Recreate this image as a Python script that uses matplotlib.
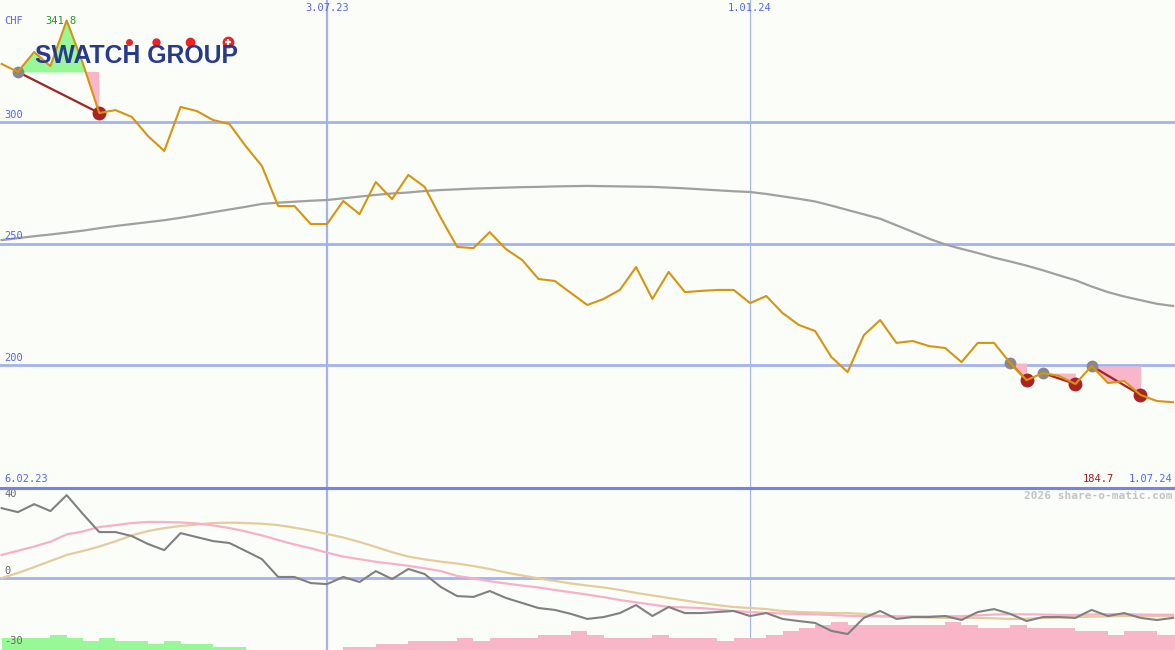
import numpy as np
import pandas as pd
import matplotlib
matplotlib.use('Agg')
import matplotlib.pyplot as plt
import matplotlib.dates as mdates
from matplotlib.lines import Line2D

# weekly closes, 13.02.23 .. 1.07.24
dates = pd.date_range('2023-02-13', periods=73, freq='7D')
start_label = '6.02.23'
end_label = '1.07.24'

price = [323.9, 320.6, 328.8, 323.0, 341.8, 324.0, 303.7, 304.9, 302.1, 294.2,
         288.1, 306.2, 304.5, 300.8, 299.2, 290.1, 281.9, 265.4, 265.4, 258.0,
         258.0, 267.5, 262.1, 275.3, 268.3, 278.2, 273.3, 260.5, 248.6, 248.1,
         254.7, 247.7, 243.2, 235.4, 234.6, 229.6, 224.7, 227.2, 230.9, 240.3,
         227.2, 238.3, 230.0, 230.5, 230.9, 230.9, 225.5, 228.4, 221.4, 216.5,
         214.0, 203.3, 197.1, 212.3, 218.5, 209.1, 209.9, 207.8, 207.0, 201.2,
         209.1, 209.1, 200.8, 193.8, 196.7, 195.5, 192.2, 199.6, 192.6, 193.4,
         187.7, 185.2, 184.7]

ma_long = [251.4, 252.2, 253.0, 253.7, 254.5, 255.3, 256.3, 257.2, 258.0, 258.8,
           259.6, 260.6, 261.7, 262.9, 264.0, 265.1, 266.3, 266.8, 267.2, 267.6,
           267.9, 268.6, 269.3, 270.0, 270.6, 271.0, 271.6, 272.0, 272.3, 272.6,
           272.8, 273.0, 273.2, 273.3, 273.5, 273.6, 273.7, 273.6, 273.5, 273.4,
           273.3, 273.0, 272.7, 272.3, 271.9, 271.5, 271.2, 270.4, 269.4, 268.4,
           267.3, 265.6, 263.8, 262.0, 260.2, 257.5, 254.8, 252.0, 249.6, 247.8,
           246.1, 244.2, 242.6, 240.9, 239.0, 236.9, 234.9, 232.3, 230.0, 228.2,
           226.7, 225.2, 224.3]

osc = [33.3, 31.4, 35.2, 31.9, 39.5, 30.5, 21.9, 21.9, 20.0, 16.2,
       13.3, 21.4, 19.5, 17.6, 16.7, 12.9, 9.0, 0.5, 0.5, -2.4,
       -2.9, 0.5, -1.9, 3.3, -0.5, 4.3, 1.9, -4.3, -8.6, -9.0,
       -6.2, -9.5, -11.9, -14.3, -15.2, -17.1, -19.5, -18.6, -16.7, -12.9,
       -18.1, -13.8, -16.7, -16.7, -16.2, -15.7, -18.1, -16.7, -19.5, -20.5,
       -21.4, -25.2, -26.7, -19.0, -15.7, -19.5, -18.6, -18.6, -18.1, -20.0,
       -16.2, -14.8, -17.1, -20.5, -18.6, -18.6, -19.0, -15.2, -18.1, -16.7,
       -19.0, -20.0, -19.0]

osc_fast = [11.0, 13.0, 15.0, 17.3, 20.8, 22.2, 24.3, 25.2, 26.2, 26.7,
            26.7, 26.5, 26.0, 25.1, 23.8, 22.2, 20.3, 18.1, 16.0, 14.2,
            12.1, 10.2, 9.0, 7.7, 6.8, 5.8, 4.6, 3.3, 1.0, -0.2,
            -1.5, -2.6, -3.6, -4.5, -5.7, -6.8, -7.9, -9.1, -10.5, -11.6,
            -12.7, -13.8, -14.0, -14.3, -15.0, -15.7, -16.2, -16.6, -16.9, -17.1,
            -17.3, -17.6, -18.0, -18.2, -18.3, -18.3, -18.3, -18.3, -18.2, -18.2,
            -17.8, -17.4, -17.3, -17.3, -17.4, -17.6, -17.6, -17.4, -17.2, -17.2,
            -17.4, -17.5, -17.5]

osc_slow = [0.0, 2.4, 5.2, 8.1, 11.0, 12.9, 15.0, 17.5, 20.3, 22.4,
            23.8, 24.8, 25.5, 26.2, 26.4, 26.2, 25.9, 25.2, 24.0, 22.6,
            21.0, 19.3, 17.2, 14.8, 12.3, 10.2, 8.9, 7.8, 6.9, 5.7,
            4.3, 2.6, 1.2, -0.2, -1.4, -2.6, -3.6, -4.5, -5.7, -7.1,
            -8.3, -9.5, -10.7, -11.9, -12.9, -13.8, -14.3, -14.8, -15.7, -16.2,
            -16.4, -16.7, -16.7, -17.1, -18.1, -18.3, -18.6, -18.8, -19.0, -19.0,
            -19.0, -19.2, -19.5, -19.4, -19.0, -18.8, -18.6, -18.4, -18.3, -18.1,
            -18.1, -18.1, -18.1]

# signed bar strength (green > 0, pink < 0)
strength = [5.7, 5.7, 5.7, 7.1, 5.7, 4.3, 5.7, 4.3, 4.3, 2.9,
            4.3, 2.9, 2.9, 1.4, 1.4, 0, 0, 0, 0, 0,
            0, -1.4, -1.4, -2.9, -2.9, -4.3, -4.3, -4.3, -5.7, -4.3,
            -5.7, -5.7, -5.7, -7.1, -7.1, -9.0, -7.1, -5.7, -5.7, -5.7,
            -7.1, -5.7, -5.7, -5.7, -4.3, -5.7, -5.7, -7.1, -9.0, -10.5,
            -11.9, -13.3, -11.9, -11.9, -11.9, -11.9, -11.9, -11.9, -13.3, -11.9,
            -10.5, -10.5, -11.9, -10.5, -10.5, -10.5, -9.0, -9.0, -7.1, -9.0,
            -9.0, -7.1, -7.1]

# (entry, exit) index pairs
trades = [(1, 6), (62, 63), (64, 66), (67, 70)]

grid_dates = ['2023-07-03', '2024-01-01']
grid_labels = ['3.07.23', '1.01.24']

bg = '#fbfdf9'
gridc = '#a4b2f2'
blue_txt = '#5566ee'
mono = 'DejaVu Sans Mono'

x = mdates.date2num(dates)
price = np.array(price)
xlo, xhi = x[0] - 0.69, x[-1] + 0.86

fig = plt.figure(figsize=(11.75, 6.5), dpi=100)
fig.patch.set_facecolor(bg)
ax1 = fig.add_axes([0, 162 / 650, 1, 488 / 650])
ax2 = fig.add_axes([0, 0, 1, 162 / 650])
for ax in (ax1, ax2):
    ax.set_facecolor(bg)
    ax.set_xlim(xlo, xhi)
    ax.set_xticks([])
    ax.set_yticks([])
    for s in ax.spines.values():
        s.set_visible(False)
    for d, w in zip(grid_dates, [1.6, 0.8]):
        ax.axvline(mdates.date2num(pd.Timestamp(d)), color=gridc, lw=w, zorder=0)

ax1.set_ylim(149.4, 350.2)
ax2.set_ylim(-34.3, 42.9)

# main panel
for lvl in [300, 250, 200]:
    ax1.axhline(lvl, color=gridc, lw=2, zorder=0)
    ax1.annotate(str(lvl), (0.004, lvl), xycoords=('axes fraction', 'data'),
                 xytext=(0, 1.5), textcoords='offset points',
                 color=blue_txt, fontsize=7.5, family=mono, va='bottom')

# panel separator
fig.add_artist(Line2D([0, 1], [162 / 650, 162 / 650], color='#7383ea', lw=2.2,
                      transform=fig.transFigure, zorder=5))

# logo
fig.text(35 / 1175, 1 - 63 / 650, 'SWATCH GROUP', family='Liberation Sans',
         fontweight='bold', fontsize=17.8, color='#283a8c', va='baseline', zorder=1)
for lx, ms in zip([129, 156, 190, 228], [5, 6, 7, 8.5]):
    ax1.plot([lx / 1175], [1 - 42 / 650], 'o', color='#ee2222', ms=ms, mec='none',
             transform=fig.transFigure, clip_on=False, zorder=1)
ax1.plot([228 / 1175], [1 - 42 / 650], '+', color='white', ms=5, mew=1.6,
         transform=fig.transFigure, clip_on=False, zorder=1)

ax1.plot(x, ma_long, color='#a0a0a0', lw=1.6, zorder=2)

for a, b in trades:
    xs = x[a:b + 1]
    ps = price[a:b + 1]
    lvl = price[a]
    ax1.fill_between(xs, ps, lvl, where=ps >= lvl, interpolate=True,
                     color='#98f898', lw=0, zorder=2)
    ax1.fill_between(xs, ps, lvl, where=ps <= lvl, interpolate=True,
                     color='#f8b6c8', lw=0, zorder=2)
    ax1.plot([x[a], x[b]], [price[a], price[b]], color='#a52222', lw=1.6, zorder=3)
    ax1.plot(x[a], price[a], 'o', color='#888888', ms=8.5, mec='none', zorder=3)
    ax1.plot(x[b], price[b], 'o', color='#a82424', ms=10, mec='none', zorder=3)

ax1.plot(x, price, color='#d69410', lw=1.5, zorder=4)

top = 1 - 21 / 488
ax1.text(0.004, top, 'CHF', transform=ax1.transAxes, color=blue_txt,
         fontsize=7.5, family=mono, va='center')
imax = int(np.argmax(price))
ax1.annotate(f'{price[imax]:.1f}', (x[imax], top), xycoords=('data', 'axes fraction'),
             xytext=(-4, 0), textcoords='offset points', ha='center', va='center',
             color='#22962a', fontsize=7.5, family=mono)
for d, lab in zip(grid_dates, grid_labels):
    ax1.annotate(lab, (mdates.date2num(pd.Timestamp(d)), 1), xycoords=('data', 'axes fraction'),
                 xytext=(0, -2), textcoords='offset points', ha='center', va='top',
                 color=blue_txt, fontsize=7.5, family=mono)
ax1.text(0.004, 0.008, start_label, transform=ax1.transAxes, color=blue_txt,
         fontsize=7.5, family=mono, va='bottom')
ax1.text(0.9975, 0.008, end_label, transform=ax1.transAxes,
         color=blue_txt, fontsize=7.5, family=mono, va='bottom', ha='right')
ax1.text(1114 / 1175, 0.008, f'{price[-1]:.1f}', transform=ax1.transAxes,
         color='#a01c1c', fontsize=7.5, family=mono, va='bottom', ha='right')

# lower panel
ax2.axhline(0, color=gridc, lw=2, zorder=0)
strength = np.array(strength)
ax2.bar(x, np.abs(strength), width=7, align='edge', bottom=-34.3,
        color=np.where(strength > 0, '#98f898', '#f8b6c8'), lw=0, zorder=1)
ax2.plot(x, osc_slow, color='#e4cc9c', lw=1.6, zorder=2)
ax2.plot(x, osc_fast, color='#f8b0c8', lw=1.6, zorder=2)
ax2.plot(x, osc, color='#808080', lw=1.5, zorder=3)

for val, lab in [(40, '40'), (0, '0'), (-30, '-30')]:
    ax2.annotate(lab, (0.004, val), xycoords=('axes fraction', 'data'),
                 xytext=(0, 1.5 if val == 0 else 0), textcoords='offset points',
                 va='bottom' if val == 0 else 'center',
                 color='#666666', fontsize=7.5, family=mono)
ax2.text(0.9975, 1 - 8 / 162, '2026 share-o-matic.com', transform=ax2.transAxes,
         color='#c4c4c4', fontsize=8, family=mono, fontweight='bold',
         va='center', ha='right')

fig.savefig('out.png', dpi=100, facecolor=bg)
